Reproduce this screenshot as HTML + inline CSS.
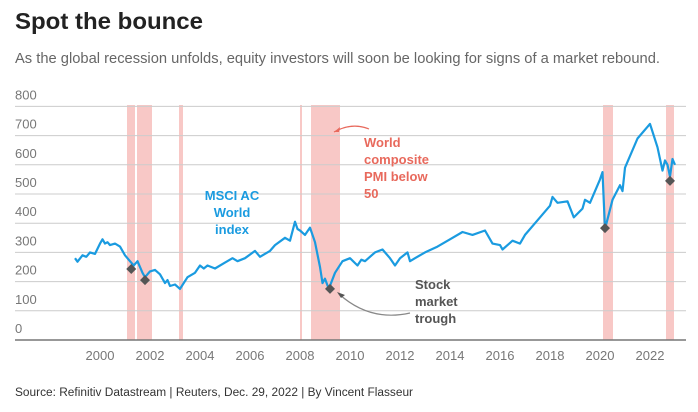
<!DOCTYPE html>
<html><head><meta charset="utf-8"><style>
body{margin:0;background:#fff;}
svg{display:block;font-family:"Liberation Sans",sans-serif;}
</style></head><body>
<svg id="c" width="698" height="412" viewBox="0 0 698 412">
<text x="15" y="29" font-size="23" font-weight="bold" fill="#222" textLength="188" lengthAdjust="spacingAndGlyphs">Spot the bounce</text>
<text x="15" y="63" font-size="15" fill="#666" textLength="645" lengthAdjust="spacingAndGlyphs">As the global recession unfolds, equity investors will soon be looking for signs of a market rebound.</text>
<g id="bands"></g>
<g id="grid"></g>
<g id="series"></g>
<g id="marks"></g>
<g id="ann">
<text x="232" y="200" font-size="13" font-weight="bold" fill="#1a9be0" text-anchor="middle">MSCI AC</text>
<text x="232" y="217" font-size="13" font-weight="bold" fill="#1a9be0" text-anchor="middle">World</text>
<text x="232" y="234" font-size="13" font-weight="bold" fill="#1a9be0" text-anchor="middle">index</text>
<text x="364" y="147" font-size="13" font-weight="bold" fill="#e8695c">World</text>
<text x="364" y="164" font-size="13" font-weight="bold" fill="#e8695c">composite</text>
<text x="364" y="181" font-size="13" font-weight="bold" fill="#e8695c">PMI below</text>
<text x="364" y="198" font-size="13" font-weight="bold" fill="#e8695c">50</text>
<path d="M369 129 Q352 122 334 132" fill="none" stroke="#e8695c" stroke-width="1.2"/>
<path d="M334 132 l6 -5 l-1 5 z" fill="#e8695c"/>
<text x="415" y="289" font-size="13" font-weight="bold" fill="#555">Stock</text>
<text x="415" y="306" font-size="13" font-weight="bold" fill="#555">market</text>
<text x="415" y="323" font-size="13" font-weight="bold" fill="#555">trough</text>
<path d="M410 313 Q370 322 339 294" fill="none" stroke="#888" stroke-width="1.2"/>
<path d="M337 292 l8 3 l-4 3 z" fill="#555"/>
</g>
<text x="15" y="396" font-size="11.5" fill="#333" textLength="398" lengthAdjust="spacingAndGlyphs">Source: Refinitiv Datastream | Reuters, Dec. 29, 2022 | By Vincent Flasseur</text>
</svg>
<script>
const yTicks=[0,100,200,300,400,500,600,700,800];
const xTicks=[2000,2002,2004,2006,2008,2010,2012,2014,2016,2018,2020,2022];
const bandStart=[2001.08,2001.48,2003.16,2008.0,2008.44,2020.12,2022.64];
const bandEnd=[2001.4,2002.08,2003.32,2008.08,2009.6,2020.52,2022.96];
const dates=[1999.0,1999.1,1999.3,1999.45,1999.6,1999.8,2000.0,2000.1,2000.2,2000.3,2000.4,2000.6,2000.8,2001.0,2001.2,2001.35,2001.5,2001.7,2001.8,2002.0,2002.2,2002.4,2002.6,2002.7,2002.8,2003.0,2003.2,2003.5,2003.8,2004.0,2004.15,2004.3,2004.6,2005.0,2005.3,2005.5,2005.8,2006.2,2006.4,2006.8,2007.0,2007.4,2007.6,2007.8,2007.9,2008.0,2008.2,2008.4,2008.6,2008.8,2008.9,2009.0,2009.15,2009.4,2009.7,2010.0,2010.3,2010.45,2010.6,2011.0,2011.3,2011.6,2011.8,2012.0,2012.3,2012.4,2012.6,2013.0,2013.5,2014.0,2014.5,2014.9,2015.4,2015.7,2016.0,2016.1,2016.5,2016.8,2017.0,2017.5,2018.0,2018.1,2018.3,2018.7,2018.95,2019.3,2019.4,2019.6,2020.0,2020.1,2020.2,2020.5,2020.8,2020.9,2021.0,2021.5,2021.9,2022.0,2022.3,2022.5,2022.6,2022.7,2022.8,2022.9,2023.0];
const values=[280,268,290,285,300,295,330,345,330,335,325,330,320,290,270,255,270,230,215,235,240,225,195,205,185,190,175,215,230,255,245,255,245,265,280,270,280,305,285,305,325,350,340,405,380,375,360,385,335,250,195,210,175,230,270,280,255,275,270,300,310,280,255,280,300,270,280,300,320,345,370,360,375,330,325,310,340,330,360,410,460,490,470,475,420,450,480,470,550,575,380,480,530,510,590,690,730,740,660,580,615,600,560,620,600];
const troughDates=[2001.25,2001.8,2009.2,2020.2,2022.8];
const troughValues=[243,205,175,383,545];
const X=d=>100+(d-2000)*25, Y=v=>340-v*0.292;
const NS='http://www.w3.org/2000/svg';
function mk(t,a,p){const e=document.createElementNS(NS,t);for(const k in a)e.setAttribute(k,a[k]);p.appendChild(e);return e;}
const bands=document.getElementById('bands'),grid=document.getElementById('grid'),ser=document.getElementById('series'),marks=document.getElementById('marks');
bandStart.forEach((s,i)=>{const r=mk('rect',{x:X(s),y:105,width:X(bandEnd[i])-X(s),height:235,fill:'#f8c8c6'},bands);

});
yTicks.forEach(v=>{if(v>0){const l=mk('line',{x1:15,x2:686,y1:Y(v),y2:Y(v),stroke:'#ccc','stroke-width':1},grid);

}
const t=mk('text',{x:15,y:Y(v)-7,'font-size':13,fill:'#777'},grid);t.textContent=v;

});
const ax=mk('line',{x1:15,x2:686,y1:340,y2:340,stroke:'#777','stroke-width':1.5},grid);


xTicks.forEach(d=>{const t=mk('text',{x:X(d),y:360,'font-size':13,fill:'#777','text-anchor':'middle'},grid);t.textContent=d;

});
const p=mk('path',{d:dates.map((d,i)=>(i?'L':'M')+X(d).toFixed(1)+' '+Y(values[i]).toFixed(1)).join(''),fill:'none',stroke:'#1a9be0','stroke-width':2.2,'stroke-linejoin':'round'},ser);


troughDates.forEach((d,i)=>{const x=X(d),y=Y(troughValues[i]);const m=mk('path',{d:`M${x} ${y-5}L${x+5} ${y}L${x} ${y+5}L${x-5} ${y}Z`,fill:'#555'},marks);

});
</script>
</body></html>
